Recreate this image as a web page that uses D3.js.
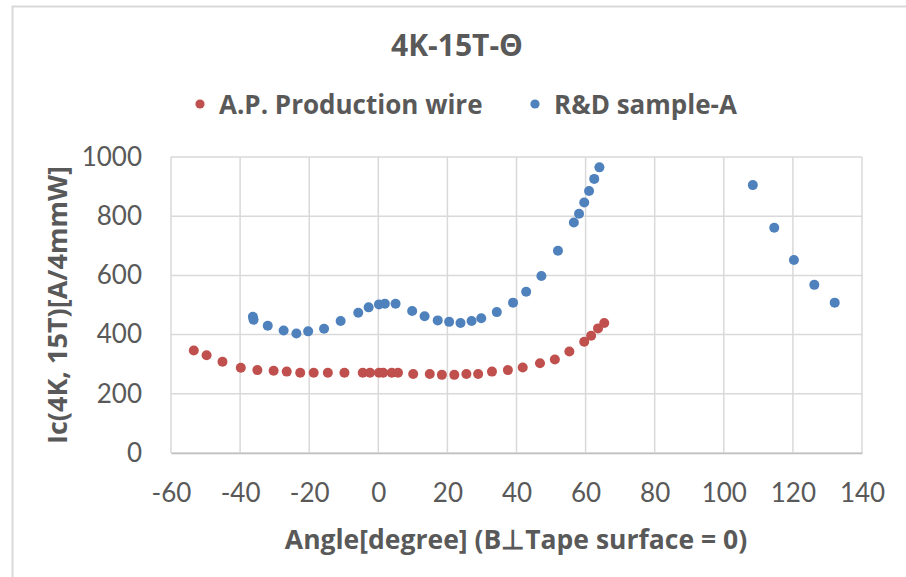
<!DOCTYPE html>
<html>
<head>
<meta charset="utf-8">
<script src="https://cdn.jsdelivr.net/npm/d3@7"></script>
<style>
  body { margin: 0; background: #fff; }
  text { font-family: Lato, "Open Sans", sans-serif; fill: #595959; }
  .bold { font-family: "Open Sans", Lato, sans-serif; font-weight: bold; }
</style>
</head>
<body>
<div id="chart"></div>
<script>
// series: A.P. Production wire (red)
var apAngle = [-53.4, -49.7, -45.1, -39.8, -35.0, -30.3, -26.5, -22.6, -18.7, -14.6, -9.8, -4.5, -2.4, 0.2, 1.4, 3.9, 5.7,
               10.1, 14.9, 18.4, 22.0, 25.5, 28.9, 32.9, 37.5, 41.8, 46.8, 51.1, 55.3, 59.6, 61.6, 63.6, 65.4];
var apIc    = [346, 330, 308, 288, 280, 278, 275, 271, 271, 271, 271, 271, 271, 271, 271, 271, 271,
               267, 267, 264, 264, 267, 267, 275, 280, 289, 303, 316, 343, 376, 396, 421, 439];

// series: R&D sample-A (blue)
var rdAngle = [-36.3, -36.1, -32.0, -27.4, -23.7, -20.3, -15.7, -10.9, -5.8, -2.8, 0.2, 1.9, 5.0, 9.8, 13.4, 17.2, 20.5,
               23.8, 27.0, 29.8, 34.3, 39.0, 42.8, 47.2, 52.0, 56.6, 58.1, 59.6, 61.0, 62.5, 64.0,
               108.4, 114.6, 120.3, 126.2, 132.1];
var rdIc    = [460, 450, 430, 414, 404, 411, 420, 446, 474, 492, 502, 504, 504, 480, 462, 448, 443,
               439, 446, 455, 476, 508, 545, 598, 683, 779, 808, 846, 885, 926, 965,
               905, 761, 652, 568, 508];

var xTicks = [-60, -40, -20, 0, 20, 40, 60, 80, 100, 120, 140];
var yTicks = [0, 200, 400, 600, 800, 1000];

var seriesNames = ["A.P. Production wire", "R&D sample-A"];
var seriesColors = ["#C0504D", "#4F81BD"];

var margin = {top: 157, right: 44, bottom: 124, left: 171},
    W = 906, H = 577,
    width = W - margin.left - margin.right,
    height = H - margin.top - margin.bottom;

var root = d3.select("#chart").append("svg")
    .attr("width", W)
    .attr("height", H);

// chart area border
root.append("rect")
    .attr("x", 12.5).attr("y", 6.5)
    .attr("width", 1000).attr("height", 1000)
    .attr("fill", "none")
    .attr("stroke", "#D9D9D9")
    .attr("stroke-width", 2);

root.append("text")
    .attr("class", "bold")
    .attr("x", 457).attr("y", 56)
    .attr("text-anchor", "middle")
    .style("font-size", "30px")
    .text("4K-15T-Θ");

var svg = root.append("g")
    .attr("transform", "translate(" + margin.left + "," + margin.top + ")");

var x = d3.scaleLinear().domain([-60, 140]).range([0, width]);
var y = d3.scaleLinear().domain([0, 1000]).range([height, 0]);

// gridlines
svg.append("g")
  .selectAll("line").data(yTicks).join("line")
    .attr("x1", 0).attr("x2", width)
    .attr("y1", function(d) { return y(d); }).attr("y2", function(d) { return y(d); })
    .attr("stroke", "#D9D9D9").attr("stroke-width", 1.5);
svg.append("g")
  .selectAll("line").data(xTicks).join("line")
    .attr("y1", 0).attr("y2", height)
    .attr("x1", function(d) { return x(d); }).attr("x2", function(d) { return x(d); })
    .attr("stroke", "#D9D9D9").attr("stroke-width", 1.5);

var fmt = function(d) { return String(d); };

// x axis
var xAxis = svg.append("g")
    .attr("transform", "translate(0," + height + ")")
    .call(d3.axisBottom(x).tickValues(xTicks).tickFormat(fmt).tickSize(0).tickPadding(31));
xAxis.select(".domain").attr("stroke", "#BFBFBF").attr("stroke-width", 1.5);
xAxis.selectAll("text").style("font-size", "26px").style("font-family", "Lato").attr("fill", "#595959");

// y axis
var yAxis = svg.append("g")
    .call(d3.axisLeft(y).tickValues(yTicks).tickFormat(fmt).tickSize(0).tickPadding(29));
yAxis.select(".domain").remove();
yAxis.selectAll("text").style("font-size", "26px").style("font-family", "Lato").attr("fill", "#595959");

// axis titles
root.append("text")
    .attr("class", "bold")
    .attr("x", 516).attr("y", 549)
    .attr("text-anchor", "middle")
    .style("font-size", "26.5px")
    .text("Angle[degree] (B\u22A5Tape surface = 0)");

root.append("text")
    .attr("class", "bold")
    .attr("transform", "translate(67," + 305 + ") rotate(-90)")
    .attr("text-anchor", "middle")
    .style("font-size", "27px")
    .text("Ic(4K, 15T)[A/4mmW]");

// points
var series = [
  {angle: apAngle, ic: apIc},
  {angle: rdAngle, ic: rdIc}
];
series.forEach(function(s, i) {
  svg.append("g")
    .selectAll("circle").data(s.angle).join("circle")
      .attr("cx", function(d) { return x(d); })
      .attr("cy", function(d, j) { return y(s.ic[j]); })
      .attr("r", 5)
      .attr("fill", seriesColors[i]);
});

// legend
var legendX = [200, 535];
var legend = root.append("g");
seriesNames.forEach(function(name, i) {
  legend.append("circle")
    .attr("cx", legendX[i]).attr("cy", 104).attr("r", 4.6)
    .attr("fill", seriesColors[i]);
  legend.append("text")
    .attr("class", "bold")
    .attr("x", legendX[i] + 19).attr("y", 114)
    .style("font-size", "26px")
    .text(name);
});
</script>
</body>
</html>
